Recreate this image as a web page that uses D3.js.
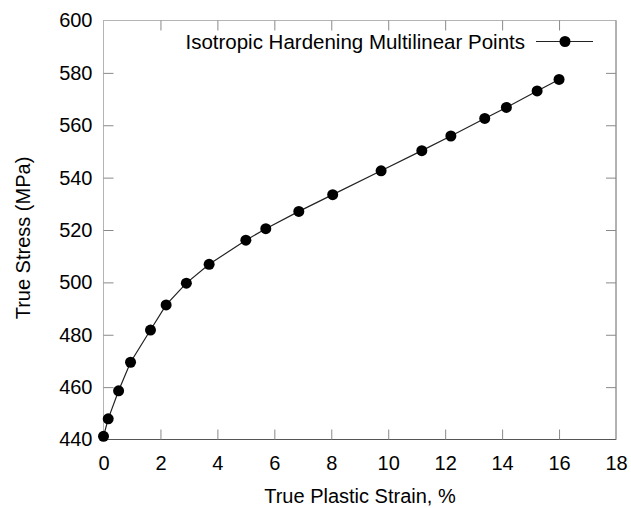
<!DOCTYPE html>
<html>
<head>
<meta charset="utf-8">
<script src="https://cdn.jsdelivr.net/npm/d3@7"></script>
<style>
  html, body { margin: 0; padding: 0; background: #fff; }
  svg { display: block; font-family: Arial, "Liberation Sans", sans-serif; }
</style>
</head>
<body>
<svg id="chart" width="631" height="508"></svg>
<script>
// True plastic strain (%) and true stress (MPa) for the multilinear hardening curve
const strain = [0, 0.165, 0.53, 0.95, 1.65, 2.2, 2.91, 3.71, 5.0, 5.7, 6.86, 8.05, 9.75, 11.18, 12.2, 13.39, 14.15, 15.23, 16.0];
const stress = [441.2, 447.9, 458.6, 469.5, 481.8, 491.4, 499.7, 506.9, 516.1, 520.5, 527.1, 533.5, 542.6, 550.3, 555.9, 562.6, 566.8, 573.1, 577.5];
const xTicks = [0, 2, 4, 6, 8, 10, 12, 14, 16, 18];
const yTicks = [440, 460, 480, 500, 520, 540, 560, 580, 600];
const seriesName = "Isotropic Hardening Multilinear Points";

const svg = d3.select("#chart");
const m = { left: 103.5, right: 616, top: 20.5, bottom: 439.5 };

const x = d3.scaleLinear().domain([0, 18]).range([m.left, m.right]);
const y = d3.scaleLinear().domain([440, 600]).range([m.bottom, m.top]);

const frameColor = "#8a8a8a";
const tickLen = 10;
const font = "Arial, 'Liberation Sans', sans-serif";

// Frame
svg.append("rect")
  .attr("x", m.left).attr("y", m.top)
  .attr("width", m.right - m.left).attr("height", m.bottom - m.top)
  .attr("fill", "none").attr("stroke", "#b4b4b4").attr("stroke-width", 1);
svg.append("line")
  .attr("x1", m.left).attr("x2", m.right).attr("y1", m.bottom).attr("y2", m.bottom)
  .attr("stroke", "#555").attr("stroke-width", 1.2);
svg.append("line")
  .attr("x1", m.right).attr("x2", m.right).attr("y1", m.top).attr("y2", m.bottom)
  .attr("stroke", frameColor).attr("stroke-width", 1);

// Bottom axis (ticks point inward)
const xAxis = d3.axisBottom(x).tickValues(xTicks).tickSize(-tickLen).tickPadding(16).tickFormat(d3.format("d"));
const gx = svg.append("g").attr("transform", `translate(0,${m.bottom})`).call(xAxis);
gx.select(".domain").remove();
gx.selectAll(".tick line").attr("stroke", frameColor).filter(d => d === 0 || d === 18).remove();
gx.selectAll(".tick text").attr("font-size", 20).attr("fill", "#000").attr("font-family", font);

// Top mirrored ticks
const gxt = svg.append("g").attr("transform", `translate(0,${m.top})`)
  .call(d3.axisTop(x).tickValues(xTicks.filter(d => d > 0 && d < 18)).tickSize(-tickLen).tickFormat(""));
gxt.select(".domain").remove();
gxt.selectAll(".tick line").attr("stroke", frameColor);

// Left axis
const yAxis = d3.axisLeft(y).tickValues(yTicks).tickSize(-tickLen).tickPadding(11).tickFormat(d3.format("d"));
const gy = svg.append("g").attr("transform", `translate(${m.left},0)`).call(yAxis);
gy.select(".domain").remove();
gy.selectAll(".tick line").attr("stroke", frameColor).filter(d => d === 440 || d === 600).remove();
gy.selectAll(".tick text").attr("font-size", 20).attr("fill", "#000").attr("font-family", font);

// Right mirrored ticks
const gyr = svg.append("g").attr("transform", `translate(${m.right},0)`)
  .call(d3.axisRight(y).tickValues(yTicks.filter(d => d > 440 && d < 600)).tickSize(-tickLen).tickFormat(""));
gyr.select(".domain").remove();
gyr.selectAll(".tick line").attr("stroke", frameColor);

// Axis titles
svg.append("text")
  .attr("x", 360).attr("y", 503)
  .attr("text-anchor", "middle").attr("font-size", 20).attr("fill", "#000")
  .text("True Plastic Strain, %");
svg.append("text")
  .attr("transform", `translate(30,238) rotate(-90)`)
  .attr("text-anchor", "middle").attr("font-size", 20).attr("fill", "#000")
  .text("True Stress (MPa)");

// Curve
const pts = strain.map((s, i) => [s, stress[i]]);
svg.append("path")
  .datum(pts)
  .attr("fill", "none").attr("stroke", "#222").attr("stroke-width", 1.2)
  .attr("d", d3.line().x(d => x(d[0])).y(d => y(d[1])));
svg.append("g").selectAll("circle")
  .data(pts).join("circle")
  .attr("cx", d => x(d[0])).attr("cy", d => y(d[1]))
  .attr("r", 5.5).attr("fill", "#000");

// Legend
const lg = svg.append("g");
lg.append("text").attr("x", 525).attr("y", 48.5)
  .attr("text-anchor", "end").attr("font-size", 20.5).attr("fill", "#000")
  .text(seriesName);
lg.append("line").attr("x1", 536).attr("x2", 593).attr("y1", 41.5).attr("y2", 41.5)
  .attr("stroke", "#222").attr("stroke-width", 1.2);
lg.append("circle").attr("cx", 565).attr("cy", 41.5).attr("r", 5.5).attr("fill", "#000");
</script>
</body>
</html>
